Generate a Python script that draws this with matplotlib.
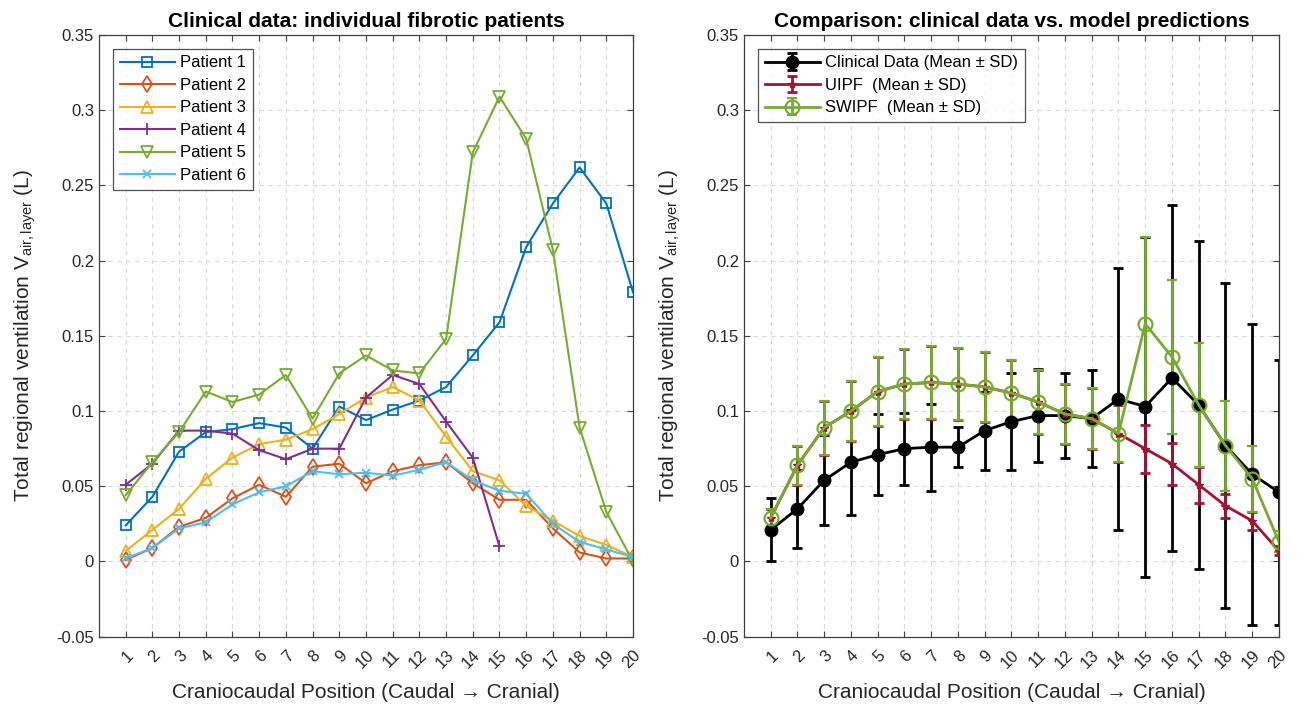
import numpy as np
import matplotlib
matplotlib.use("Agg")
import matplotlib.pyplot as plt

plt.rcParams['font.family'] = ['Liberation Sans', 'DejaVu Sans']
plt.rcParams['mathtext.fontset'] = 'custom'
plt.rcParams['mathtext.rm'] = 'Liberation Sans'
plt.rcParams['mathtext.it'] = 'Liberation Sans:italic'

positions = list(range(1, 21))
pos_labels = [str(p) for p in positions]

# left panel: individual patients
patient1 = [0.024, 0.043, 0.073, 0.086, 0.088, 0.092, 0.089, 0.075, 0.103, 0.094,
            0.101, 0.107, 0.116, 0.137, 0.159, 0.209, 0.238, 0.262, 0.238, 0.179]
patient2 = [0.001, 0.009, 0.023, 0.029, 0.042, 0.051, 0.043, 0.063, 0.065, 0.052,
            0.060, 0.064, 0.066, 0.052, 0.041, 0.041, 0.022, 0.006, 0.002, 0.002]
patient3 = [0.007, 0.021, 0.035, 0.055, 0.069, 0.078, 0.081, 0.088, 0.098, 0.109,
            0.116, 0.107, 0.083, 0.060, 0.054, 0.037, 0.027, 0.017, 0.011, 0.003]
patient4 = [0.051, 0.065, 0.087, 0.087, 0.085, 0.074, 0.068, 0.075, 0.075, 0.109,
            0.124, 0.118, 0.093, 0.069, 0.010, np.nan, np.nan, np.nan, np.nan, np.nan]
patient5 = [0.044, 0.066, 0.086, 0.113, 0.106, 0.111, 0.124, 0.095, 0.125, 0.137,
            0.127, 0.125, 0.148, 0.272, 0.309, 0.281, 0.207, 0.089, 0.033, 0.000]
patient6 = [0.002, 0.009, 0.022, 0.026, 0.038, 0.046, 0.050, 0.060, 0.058, 0.059,
            0.057, 0.061, 0.066, 0.054, 0.047, 0.045, 0.025, 0.013, 0.008, 0.003]

# right panel: means and SDs
clin_mean = [0.021, 0.035, 0.054, 0.066, 0.071, 0.075, 0.076, 0.076, 0.087, 0.093,
             0.097, 0.097, 0.095, 0.108, 0.103, 0.122, 0.104, 0.077, 0.058, 0.046]
clin_sd = [0.021, 0.026, 0.030, 0.035, 0.027, 0.024, 0.029, 0.0135, 0.026, 0.032,
           0.031, 0.028, 0.032, 0.087, 0.113, 0.115, 0.109, 0.108, 0.100, 0.088]
uipf_mean = [0.029, 0.064, 0.089, 0.100, 0.113, 0.118, 0.119, 0.118, 0.116, 0.112,
             0.106, 0.098, 0.095, 0.085, 0.075, 0.065, 0.051, 0.037, 0.027, 0.007]
uipf_sd = [0.006, 0.013, 0.018, 0.020, 0.023, 0.023, 0.024, 0.024, 0.023, 0.022,
           0.021, 0.020, 0.020, 0.019, 0.016, 0.014, 0.012, 0.008, 0.006, 0.003]
swipf_mean = [0.029, 0.064, 0.089, 0.100, 0.113, 0.118, 0.119, 0.118, 0.116, 0.112,
              0.106, 0.098, 0.095, 0.085, 0.158, 0.136, 0.104, 0.077, 0.055, 0.013]
swipf_sd = [0.006, 0.013, 0.018, 0.020, 0.023, 0.023, 0.024, 0.024, 0.023, 0.022,
            0.021, 0.020, 0.020, 0.019, 0.058, 0.051, 0.041, 0.030, 0.022, 0.007]

c_blue = '#0072BD'
c_orange = '#D95319'
c_yellow = '#EDB120'
c_purple = '#7E2F8E'
c_green = '#77AC30'
c_cyan = '#4DBEEE'
c_red = '#A2142F'

ylab = r'Total regional ventilation V$_{\mathrm{air,layer}}$ (L)'
xlab = 'Craniocaudal Position (Caudal \u2192 Cranial)'


def style_axes(ax):
    ax.set_xlim(0, 20)
    ax.set_ylim(-0.05, 0.35)
    ax.set_xticks(positions)
    ax.set_xticklabels(pos_labels, rotation=45, ha='right', rotation_mode='anchor')
    ax.set_yticks(np.arange(-0.05, 0.351, 0.05))
    ax.set_yticklabels(['-0.05', '0', '0.05', '0.1', '0.15', '0.2', '0.25', '0.3', '0.35'])
    ax.tick_params(direction='in', length=4, top=True, right=True, labelsize=12,
                   color='#404040', labelcolor='#262626')
    ax.tick_params(axis='x', pad=8)
    ax.grid(True, linestyle=(0, (4, 4)), color='#d9d9d9', linewidth=0.8)
    ax.set_axisbelow(True)
    for s in ax.spines.values():
        s.set_color('#404040')
        s.set_linewidth(0.9)
    ax.set_xlabel(xlab, fontsize=15, color='#262626', labelpad=8)
    ax.set_ylabel(ylab, fontsize=15, color='#262626', labelpad=13)


def make_legend(ax):
    leg = ax.legend(loc='upper left', fontsize=12, frameon=True, fancybox=False,
                    handlelength=3.3, handletextpad=0.35, borderpad=0.4,
                    labelspacing=0.45, borderaxespad=0,
                    bbox_to_anchor=(0.026, 0.977))
    leg.get_frame().set_edgecolor('#262626')
    leg.get_frame().set_linewidth(0.9)
    return leg


fig = plt.figure(figsize=(12.99, 7.04), dpi=100)
ax1 = fig.add_axes([0.0762, 0.0956, 0.4111, 0.8547])
ax2 = fig.add_axes([0.5727, 0.0956, 0.4119, 0.8547])

lw = 1.5
ms = 7
ax1.plot(positions, patient1, '-s', color=c_blue, lw=lw, ms=ms, mfc='none', mew=1.3, label='Patient 1')
ax1.plot(positions, patient2, '-d', color=c_orange, lw=lw, ms=ms + 1, mfc='none', mew=1.3, label='Patient 2')
ax1.plot(positions, patient3, '-^', color=c_yellow, lw=lw, ms=ms + 2, mfc='none', mew=1.3, label='Patient 3')
ax1.plot(positions, patient4, '-+', color=c_purple, lw=lw, ms=ms + 2, mew=1.3, label='Patient 4')
ax1.plot(positions, patient5, '-v', color=c_green, lw=lw, ms=ms + 2, mfc='none', mew=1.3, label='Patient 5')
ax1.plot(positions, patient6, '-x', color=c_cyan, lw=lw, ms=ms - 1, mew=1.3, label='Patient 6')
style_axes(ax1)
ax1.set_title('Clinical data: individual fibrotic patients', fontsize=15, fontweight='bold', pad=6)
make_legend(ax1)

ax2.errorbar(positions, clin_mean, yerr=clin_sd, fmt='-o', color='black', lw=2,
             ms=9, elinewidth=2, capsize=3.5, capthick=2, label='Clinical Data (Mean \u00b1 SD)')
ax2.errorbar(positions, uipf_mean, yerr=uipf_sd, fmt='-*', color=c_red, lw=2,
             ms=6, elinewidth=2, capsize=3.5, capthick=2, label='UIPF  (Mean \u00b1 SD)')
ax2.errorbar(positions, swipf_mean, yerr=swipf_sd, fmt='-o', color=c_green, lw=2,
             ms=10, mfc='none', mew=1.6, elinewidth=2, capsize=3.5, capthick=2,
             label='SWIPF  (Mean \u00b1 SD)')
style_axes(ax2)
ax2.set_title('Comparison: clinical data vs. model predictions', fontsize=15, fontweight='bold', pad=6)
make_legend(ax2)

fig.savefig('out.png', dpi=100)
